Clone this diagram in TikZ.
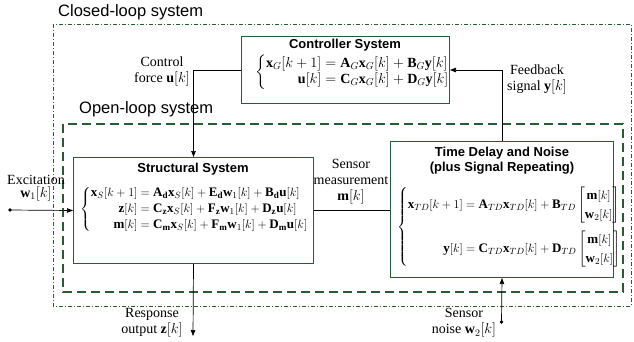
\documentclass[tikz,border=0pt]{standalone}
\usepackage{amsmath}
\usepackage{fontspec}
\setmainfont{Liberation Serif}
\setsansfont{Liberation Sans}
\usetikzlibrary{arrows.meta,calc}
\definecolor{dkgreen}{RGB}{40,92,52}
\begin{document}
\begin{tikzpicture}[
  x=1pt, y=-1pt,
  box/.style={draw=dkgreen, line width=1pt, inner sep=0pt, anchor=north west},
  arr/.style={-{Triangle[length=6pt,width=4.5pt]}, line width=0.7pt},
  plain/.style={line width=0.7pt},
  dot/.style={circle, fill=black, inner sep=0pt, minimum size=3.6pt},
  lbl/.style={font=\fontsize{14}{16}\selectfont, align=center, inner sep=0pt},
  ttl/.style={font=\sffamily\bfseries\fontsize{13}{15.5}\selectfont, inner sep=0pt, align=center},
  big/.style={font=\sffamily\fontsize{16.5}{20}\selectfont, inner sep=0pt, anchor=base west},
  eq/.style={inner sep=0pt, font=\fontsize{13}{15}\selectfont, anchor=west},
  closedf/.style={draw=dkgreen, line width=0.7pt, dash pattern=on 4pt off 2pt on 1pt off 2pt},
  openf/.style={draw=dkgreen, line width=1.2pt, dash pattern=on 9pt off 5pt},
]
\useasboundingbox (0,0) rectangle (634,341);

% frames
\draw[closedf] (53,24) rectangle (631,306);
\draw[openf] (63,124) rectangle (623,292);
\node[big] (cl) at (58,16) {Closed-loop system};
\node[big] (ol) at (79,113) {Open-loop system};

% boxes
\node[box, minimum width=208pt, minimum height=67pt] (ctrl) at (241,36) {};
\node[box, minimum width=240pt, minimum height=106pt] (struct) at (73,157) {};
\node[box, minimum width=223pt, minimum height=136pt] (td) at (390,141) {};

% controller content
\node[ttl] (ctrlT) at (345,45) {Controller System};
\node[eq, font=\fontsize{14}{16}\selectfont] (ctrlE) at (255,72.5) {$\setlength{\jot}{0pt}\left\{\begin{aligned}
\mathbf{x}_G[k+1] &= \mathbf{A}_G\mathbf{x}_G[k] + \mathbf{B}_G\mathbf{y}[k]\\
\mathbf{u}[k] &= \mathbf{C}_G\mathbf{x}_G[k] + \mathbf{D}_G\mathbf{y}[k]
\end{aligned}\right.$};

% structural content
\node[ttl] (structT) at (193,169) {Structural System};
\node[eq] (structE) at (80,209.5) {$\setlength{\jot}{1pt}\left\{\begin{aligned}
\mathbf{x}_S[k+1] &= \mathbf{A}_{\mathbf{d}}\mathbf{x}_S[k] + \mathbf{E}_{\mathbf{d}}\mathbf{w}_1[k] + \mathbf{B}_{\mathbf{d}}\mathbf{u}[k]\\
\mathbf{z}[k] &= \mathbf{C}_{\mathbf{z}}\mathbf{x}_S[k] + \mathbf{F}_{\mathbf{z}}\mathbf{w}_1[k] + \mathbf{D}_{\mathbf{z}}\mathbf{u}[k]\\
\mathbf{m}[k] &= \mathbf{C}_{\mathbf{m}}\mathbf{x}_S[k] + \mathbf{F}_{\mathbf{m}}\mathbf{w}_1[k] + \mathbf{D}_{\mathbf{m}}\mathbf{u}[k]
\end{aligned}\right.$};

% time delay content
\node[ttl] (tdT) at (502,160.5) {Time Delay and Noise\\(plus Signal Repeating)};
\node[eq] (tdE) at (397,227) {$\renewcommand{\arraystretch}{1.3}\setlength{\jot}{4pt}\left\{\begin{aligned}
\mathbf{x}_{TD}[k+1] &= \mathbf{A}_{TD}\mathbf{x}_{TD}[k] + \mathbf{B}_{TD}\begin{bmatrix}\mathbf{m}[k]\\ \mathbf{w}_2[k]\end{bmatrix}\\
\mathbf{y}[k] &= \mathbf{C}_{TD}\mathbf{x}_{TD}[k] + \mathbf{D}_{TD}\begin{bmatrix}\mathbf{m}[k]\\ \mathbf{w}_2[k]\end{bmatrix}
\end{aligned}\right.$};

% connectors
\draw[arr] (ctrl.west) -| (struct.north);
\draw[arr] (td.north) |- (ctrl.east);
\node[dot] (excD) at (10,210) {};
\draw[arr] (excD.center) -- (struct.west);
\draw[plain] (struct.east) -- (struct.east -| td.west);
\coordinate (respE) at (193,336);
\draw[arr] (struct.south) -- (respE);
\node[dot] (noiseD) at (501.5,322) {};
\draw[arr] (noiseD.center) -- (td.south);

% labels
\node[lbl] (ctrlL) at (162,71.5) {Control\\force $\mathbf{u}[k]$};
\node[lbl] (fbL) at (537,79) {Feedback\\signal $\mathbf{y}[k]$};
\node[lbl] (excL) at (36,188) {Excitation\\[-3pt]$\mathbf{w}_1[k]$};
\node[lbl] (smL) at (351,182) {Sensor\\measurement\\$\mathbf{m}[k]$};
\node[lbl] (respL) at (152,323) {Response\\output $\mathbf{z}[k]$};
\node[lbl] (noiseL) at (464,323) {Sensor\\noise $\mathbf{w}_2[k]$};
\end{tikzpicture}
\end{document}
